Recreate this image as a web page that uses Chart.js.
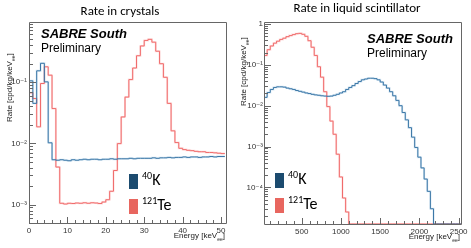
<!DOCTYPE html>
<html>
<head>
<meta charset="utf-8">
<script src="https://cdn.jsdelivr.net/npm/chart.js@4.4.1/dist/chart.umd.min.js"></script>
<style>
body { margin: 0; width: 471px; height: 248px; position: relative; overflow: hidden; background: #fff; font-family: "Liberation Sans", Arial, sans-serif; }
canvas { position: absolute; top: 0; }
.t { position: absolute; white-space: nowrap; color: #000; }
.title { font-family: Carlito, Lato, "Open Sans", sans-serif; font-size: 13px; transform: translateX(-50%); }
.sabre { font-weight: bold; font-style: italic; font-size: 13px; }
.prelim { font-size: 12px; }
.ytitle { font-size: 8px; line-height: 9px; color: #222; transform-origin: left top; transform: rotate(-90deg); }
.xtitle { font-size: 8px; color: #222; text-align: right; }
.box { position: absolute; width: 9px; height: 15px; }
.leg { font-family: Carlito, Lato, "Open Sans", sans-serif; font-size: 16px; }
.leg sup { font-size: 10px; vertical-align: 6px; }
sub { font-size: 5px; }
</style>
</head>
<body>
<canvas id="crystalChart" width="235" height="248" style="left:0"></canvas>
<canvas id="lsChart" width="236" height="248" style="left:235px"></canvas>

<div class="t title" style="left:120px;top:3px">Rate in crystals</div>
<div class="t title" style="left:357px;top:0px">Rate in liquid scintillator</div>

<div class="t sabre" style="left:41px;top:26px">SABRE South</div>
<div class="t prelim" style="left:41px;top:41px">Preliminary</div>
<div class="t sabre" style="left:367px;top:31px">SABRE South</div>
<div class="t prelim" style="left:367px;top:46px">Preliminary</div>

<div class="t ytitle" style="left:5px;top:122px">Rate [cpd/kg/keV<sub>ee</sub>]</div>
<div class="t ytitle" style="left:239px;top:106px">Rate [cpd/kg/keV<sub>ee</sub>]</div>
<div class="t xtitle" style="left:150px;top:231px;width:75px">Energy [keV<sub>ee</sub>]</div>
<div class="t xtitle" style="left:385px;top:232px;width:75px">Energy [keV<sub>ee</sub>]</div>

<div class="box" style="left:129px;top:174px;background:#1c4b6f"></div>
<div class="box" style="left:129px;top:199px;background:#e8665f"></div>
<div class="t leg" style="left:142px;top:169px"><sup>40</sup>K</div>
<div class="t leg" style="left:142px;top:194px"><sup>121</sup>Te</div>
<div class="box" style="left:275px;top:173px;background:#1c4b6f"></div>
<div class="box" style="left:275px;top:198px;background:#e8665f"></div>
<div class="t leg" style="left:288px;top:168px"><sup>40</sup>K</div>
<div class="t leg" style="left:288px;top:193px"><sup>121</sup>Te</div>

<script>
// crystals: 1 keV bins starting at 0
var crystalBinWidth = 1;
var crystalK = [0.105, 0.045, 0.153, 0.203, 0.101, 0.0102, 0.0054, 0.0053, 0.0054, 0.0053,
    0.0052, 0.0054, 0.0053, 0.0054, 0.0055, 0.0054, 0.0055, 0.0055, 0.0054, 0.0055,
    0.0055, 0.0056, 0.0055, 0.0056, 0.0056, 0.0056, 0.0057, 0.0056, 0.0057, 0.0057,
    0.0057, 0.0057, 0.0058, 0.0057, 0.0058, 0.0058, 0.0059, 0.0058, 0.0059, 0.0059,
    0.006, 0.0059, 0.006, 0.006, 0.0059, 0.006, 0.006, 0.0061, 0.006, 0.0061, 0.0061];
var crystalTe = [0.067, 0.054, 0.0186, 0.095, 0.178, 0.13, 0.037, 0.0041, 0.00105, 0.00102,
    0.00105, 0.00104, 0.00106, 0.00105, 0.00107, 0.00105, 0.00107, 0.00106, 0.00104, 0.0011,
    0.0012, 0.00165, 0.0036, 0.0099, 0.027, 0.057, 0.11, 0.17, 0.27, 0.39,
    0.48, 0.5, 0.45, 0.32, 0.2, 0.12, 0.045, 0.016, 0.0103, 0.0083,
    0.0079, 0.0077, 0.0076, 0.0074, 0.0073, 0.0073, 0.0071, 0.0071, 0.007, 0.0069, 0.0068];
var crystalXTicks = [0, 10, 20, 30, 40, 50];
var crystalYTicks = [0.001, 0.01, 0.1];

// liquid scintillator: 40 keV bins starting at 20
var lsStart = 20;
var lsBinWidth = 40;
var lsK = [0.016, 0.021, 0.025, 0.028, 0.029, 0.029, 0.0285, 0.027, 0.026, 0.025,
    0.0235, 0.0225, 0.0215, 0.0205, 0.0198, 0.019, 0.0184, 0.018, 0.0175, 0.0172,
    0.017, 0.0172, 0.018, 0.019, 0.0205, 0.022, 0.025, 0.028, 0.031, 0.035,
    0.039, 0.043, 0.045, 0.047, 0.047, 0.046, 0.043, 0.038, 0.032, 0.027,
    0.022, 0.0175, 0.0135, 0.01, 0.0068, 0.0045, 0.0029, 0.0017, 0.00095, 0.00055,
    0.0003, 0.00016, 0.00008, 0.00003, 0, 0, 0, 0, 0, 0, 0, 0, 0];
var lsTe = [0.17, 0.235, 0.29, 0.34, 0.38, 0.42, 0.45, 0.49, 0.52, 0.55,
    0.58, 0.59, 0.56, 0.5, 0.39, 0.27, 0.17, 0.09, 0.05, 0.022,
    0.0095, 0.0042, 0.002, 0.00065, 0.00018, 0.000055, 0.000025, 0, 0, 0,
    0, 0, 0, 0, 0, 0, 0, 0, 0, 0, 0, 0, 0, 0, 0, 0, 0, 0, 0, 0,
    0, 0, 0, 0, 0, 0, 0, 0, 0, 0, 0, 0, 0];
var lsXTicks = [500, 1000, 1500, 2000, 2500];
var lsYTicks = [0.0001, 0.001, 0.01, 0.1, 1];

var supDigits = {"1": "\u00b9", "2": "\u00b2", "3": "\u00b3", "4": "\u2074", "5": "\u2075"};

function logLabel(v) {
    var e = Math.round(Math.log10(v));
    if (e === 0) return "1";
    return "10\u207b" + supDigits[String(-e)];
}

// histogram -> step points (low edges + closing upper edge)
function toSteps(values, start, width, floor) {
    var pts = [];
    for (var i = 0; i < values.length; i++) {
        pts.push({x: start + i * width, y: values[i] > 0 ? values[i] : floor});
    }
    pts.push({x: start + values.length * width, y: pts[pts.length - 1].y});
    return pts;
}

// ROOT-like frame with ticks drawn on the inside
var rootFrame = {
    id: 'rootFrame',
    afterDatasetsDraw(chart, args, opts) {
        var ctx = chart.ctx, a = chart.chartArea, x = chart.scales.x, y = chart.scales.y;
        ctx.save();
        ctx.strokeStyle = '#666';
        ctx.lineWidth = 1;
        ctx.beginPath();
        ctx.rect(Math.round(a.left) + 0.5, Math.round(a.top) + 0.5, Math.round(a.right - a.left), Math.round(a.bottom - a.top));
        for (var v = opts.xFirst; v <= x.max; v += opts.xMinor) {
            if (v < x.min) continue;
            var px = Math.round(x.getPixelForValue(v)) + 0.5;
            var major = Math.abs(v / opts.xMajor - Math.round(v / opts.xMajor)) < 1e-6;
            ctx.moveTo(px, a.bottom);
            ctx.lineTo(px, a.bottom - (major ? 6 : 3));
        }
        for (var d = Math.floor(Math.log10(y.min)); d <= Math.ceil(Math.log10(y.max)); d++) {
            for (var m = 1; m < 10; m++) {
                var val = m * Math.pow(10, d);
                if (val < y.min || val > y.max) continue;
                var py = Math.round(y.getPixelForValue(val)) + 0.5;
                ctx.moveTo(a.left, py);
                ctx.lineTo(a.left + (m === 1 ? 7 : 4), py);
            }
        }
        ctx.stroke();
        ctx.restore();
    }
};

function histSets(k, te, start, width, floor) {
    return [
        {data: toSteps(k, start, width, floor), borderColor: "#3a76a6", borderWidth: 1, order: 0},
        {data: toSteps(te, start, width, floor), borderColor: "#f06b6b", borderWidth: 1, order: 1},
        {data: toSteps(k, start, width, floor), borderColor: "rgba(140,185,220,0.35)", borderWidth: 2, order: 2},
        {data: toSteps(te, start, width, floor), borderColor: "rgba(250,160,160,0.35)", borderWidth: 2, order: 3}
    ];
}

function makeOptions(xMin, xMax, xTicks, yMin, yMax, yTicks, frame) {
    var tickFont = {family: "'Liberation Sans', 'DejaVu Sans', Arial", size: 8};
    return {
        responsive: false,
        animation: false,
        layout: {padding: {left: 0, right: frame.padRight, top: 22, bottom: 0}},
        elements: {
            point: {radius: 0},
            line: {stepped: true, fill: false, tension: 0}
        },
        plugins: {
            legend: {display: false},
            tooltip: {enabled: false},
            rootFrame: frame
        },
        scales: {
            x: {
                type: 'linear',
                min: xMin,
                max: xMax,
                grid: {display: false, drawTicks: false},
                border: {display: false},
                afterBuildTicks: function(s) { s.ticks = xTicks.map(function(v) { return {value: v}; }); },
                afterFit: function(s) { s.height = frame.xHeight; },
                ticks: {color: "#333", font: tickFont, padding: 3, maxRotation: 0, autoSkip: false,
                    callback: function(v) { return String(v); }}
            },
            y: {
                type: 'logarithmic',
                min: yMin,
                max: yMax,
                grid: {display: false, drawTicks: false},
                border: {display: false},
                afterBuildTicks: function(s) { s.ticks = yTicks.map(function(v) { return {value: v}; }); },
                afterFit: function(s) { s.width = 29; },
                ticks: {color: "#333", font: tickFont, padding: frame.yPad, autoSkip: false, callback: function(v) { return logLabel(v); }}
            }
        }
    };
}

var crystalChart = new Chart(document.getElementById("crystalChart"), {
    type: 'line',
    data: {datasets: histSets(crystalK, crystalTe, 0, crystalBinWidth, 0.0005)},
    options: makeOptions(0, 51.3, crystalXTicks, 0.0005, 0.96, crystalYTicks,
        {padRight: 9, xHeight: 25, yPad: 2, xFirst: 0, xMinor: 2, xMajor: 10}),
    plugins: [rootFrame]
});

var lsChart = new Chart(document.getElementById("lsChart"), {
    type: 'line',
    data: {datasets: histSets(lsK, lsTe, lsStart, lsBinWidth, 0.0000127)},
    options: makeOptions(20, 2530, lsXTicks, 0.0000127, 1.12, lsYTicks,
        {padRight: 10, xHeight: 24, yPad: 1, xFirst: 100, xMinor: 100, xMajor: 500}),
    plugins: [rootFrame]
});
</script>
</body>
</html>
